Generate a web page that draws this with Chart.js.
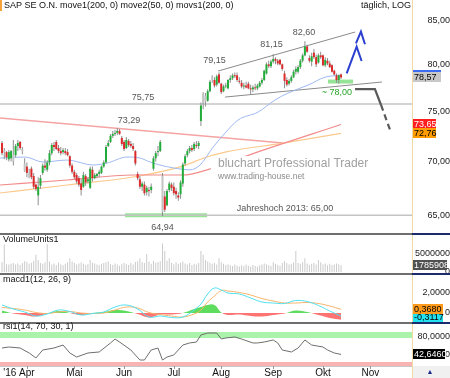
<!DOCTYPE html>
<html>
<head>
<meta charset="utf-8">
<script src="https://cdn.jsdelivr.net/npm/chart.js@4.4.1/dist/chart.umd.min.js"></script>
<style>
  html, body { margin: 0; padding: 0; background: #fff; }
  #wrap { position: relative; width: 450px; height: 378px; overflow: hidden; }
  #wrap canvas { position: absolute; left: 0; }
</style>
</head>
<body>
<div id="wrap">
  <canvas id="cPrice" width="450" height="233" style="top:0px"></canvas>
  <canvas id="cVol" width="450" height="40" style="top:233px"></canvas>
  <canvas id="cMacd" width="450" height="49" style="top:273px"></canvas>
  <canvas id="cRsi" width="450" height="56" style="top:322px"></canvas>
</div>
<script>
// SAP SE, Tageskerzen 15.03.2016 - 13.10.2016 (Index 0 = erster Handelstag)
const opens = [71.8,71.1,70.9,70.2,70.3,70.0,70.6,71.5,71.9,71.0, 69.1,69.5,68.5,69.3,68.6,67.8,66.8,67.7,68.9,69.6,
  69.2,69.9,70.8,71.6,71.9,71.3,71.0,70.9,71.0,70.9, 70.5,69.6,69.0,68.7,68.4,67.9,67.6,68.6,68.1,67.5,
  69.2,68.4,68.6,68.8,68.9,69.5,69.9,71.5,71.9,72.5, 72.7,72.8,73.0,72.3,71.9,71.3,72.0,71.7,71.5,71.0,
  68.8,68.3,67.6,67.8,67.1,67.3,67.3,69.3,70.3,70.9, 71.0,65.3,66.7,65.9,67.3,67.8,67.6,67.2,66.8,66.9,
  67.9,69.8,70.6,71.0,71.3,71.2,71.6,71.5,74.0,76.8, 76.6,76.1,77.1,78.6,78.3,77.8,78.9,77.9,77.1,77.6,
  77.4,78.3,78.5,78.8,78.8,78.2,78.0,77.6,77.7,77.9, 77.4,77.3,77.5,77.4,77.6,78.0,78.3,79.0,80.0,79.8,
  80.3,80.6,80.4,80.5,80.0,79.0,78.3,77.9,78.2,78.6, 79.2,79.2,79.7,80.4,81.0,82.0,80.7,80.3,81.3,80.8,
  80.2,81.0,81.0,79.9,80.4,80.1,79.9,79.3,78.8,78.3, 78.9];
const highs = [72.0,71.3,71.0,71.1,71.1,72.1,71.7,72.1,72.0,71.4, 70.3,69.9,69.3,69.5,68.9,67.9,68.5,68.7,69.8,70.2,
  70.1,71.1,71.8,71.9,72.1,71.6,71.4,71.3,71.3,71.2, 70.6,69.8,69.2,68.9,68.6,68.3,69.0,68.8,68.5,69.5,
  69.5,68.9,68.9,69.2,69.6,70.1,71.6,72.1,72.7,73.0, 73.1,73.29,73.2,72.5,72.1,72.4,72.2,72.0,71.8,71.1,
  69.0,68.6,68.1,68.1,67.7,67.6,67.9,70.5,71.0,71.5, 72.1,68.9,67.2,67.4,68.1,68.0,68.0,67.5,67.1,68.2,
  69.9,70.7,71.2,71.5,71.6,71.9,72.0,72.0,75.9,77.0, 76.9,77.3,78.3,78.8,78.6,78.9,79.15,78.0,77.8,78.0,
  78.4,78.8,79.0,79.1,79.1,78.6,78.3,78.0,78.1,78.1, 77.8,77.7,77.9,77.9,78.2,78.5,79.4,80.2,80.4,80.5,
  81.15,80.8,80.6,80.6,80.1,79.3,78.6,78.4,78.8,79.4, 79.8,79.9,80.6,81.2,82.60,82.2,81.0,81.3,81.7,81.1,
  81.2,81.4,81.1,80.8,80.7,80.4,80.0,79.4,79.0,78.9, 79.0];
const lows = [70.6,70.2,70.1,70.0,70.0,69.6,70.4,71.0,71.1,70.7, 69.0,68.5,68.4,68.3,67.4,67.2,65.9,67.4,68.7,69.1,
  69.0,69.6,70.6,71.0,71.1,70.8,70.6,70.7,70.6,70.5, 69.4,68.8,68.3,67.9,67.6,66.8,67.5,67.7,67.9,67.4,
  68.1,68.3,68.4,68.5,68.8,69.4,69.8,71.4,71.8,72.3, 72.5,72.6,72.6,71.5,71.0,71.2,71.4,71.3,71.0,69.6,
  68.2,67.4,67.2,66.8,66.8,66.7,67.0,69.1,70.0,70.5, 70.9,64.94,65.3,65.8,67.1,67.2,66.8,66.5,66.3,66.5,
  67.6,69.6,70.4,70.8,70.9,71.0,71.3,71.2,73.5,75.2, 75.5,76.0,77.0,78.0,77.5,77.6,77.9,76.8,77.0,77.4,
  77.3,78.0,78.3,78.5,78.1,77.9,77.4,77.3,77.4,77.3, 76.8,77.0,77.2,77.2,77.5,77.8,78.2,78.9,79.6,79.6,
  80.1,80.0,79.9,79.9,79.3,77.4,77.6,77.7,78.0,78.5, 78.9,79.0,79.5,80.2,80.9,81.3,80.2,79.8,80.6,79.7,
  80.1,80.6,79.8,79.7,79.9,79.6,79.1,78.8,78.0,77.9, 78.4];
const closes = [70.8,70.9,70.4,70.9,71.0,70.6,71.5,71.8,71.3,71.2, 69.8,68.9,68.8,68.5,67.6,67.4,67.6,68.4,69.6,69.4,
  69.9,70.8,71.6,71.4,71.2,71.0,70.8,71.1,70.8,70.6, 69.6,69.0,68.5,68.1,67.8,67.3,68.7,68.0,68.3,69.3,
  68.4,68.7,68.8,69.0,69.5,69.9,71.4,71.8,72.5,72.7, 72.8,73.0,72.7,71.7,71.2,72.1,71.6,71.5,71.2,69.8,
  68.4,67.6,67.9,67.0,67.5,67.2,67.6,70.3,70.8,71.0, 71.9,68.6,65.5,67.2,67.9,67.5,67.0,66.9,66.6,68.0,
  69.7,70.5,71.0,71.3,71.1,71.7,71.5,71.8,75.6,75.9, 76.0,77.1,78.1,78.3,77.7,78.7,78.0,77.0,77.6,77.7,
  78.3,78.5,78.8,78.7,78.3,78.1,77.6,77.7,77.5,77.4, 77.3,77.5,77.4,77.7,78.0,78.3,79.3,80.0,79.8,80.3,
  80.6,80.4,80.1,80.0,79.5,78.2,77.8,78.2,78.6,79.2, 79.5,79.7,80.4,81.0,82.0,81.4,80.4,80.9,80.8,80.0,
  81.0,80.8,79.9,80.5,80.1,79.7,79.2,78.9,78.3,78.8, 78.57];
// Volumen in Mio. Stueck
const volumes = [2.6,7.4,2.1,2.0,2.2,2.4,2.0,2.3,1.9,2.4, 2.9,2.7,2.2,2.5,3.0,4.6,3.2,2.4,2.2,2.6,
  7.4,2.8,2.0,2.3,1.9,2.5,2.1,1.8,2.2,2.6, 3.7,2.8,2.4,2.0,2.3,2.6,2.2,1.9,2.1,3.2,
  2.5,2.3,2.0,1.8,2.2,2.4,2.6,2.8,2.1,1.9, 2.3,2.0,1.7,2.2,2.5,2.1,1.9,2.4,2.0,2.7,
  2.9,3.7,2.6,2.4,4.8,2.8,2.2,3.0,2.5,2.7, 2.9,7.6,5.6,3.0,3.7,2.4,2.1,2.6,2.2,2.5,
  2.8,2.3,2.0,2.4,1.9,2.2,2.0,2.4,5.6,4.6, 3.2,2.8,2.5,2.2,2.4,2.0,3.7,2.6,2.2,1.9,
  2.1,1.8,1.6,2.0,1.7,1.5,1.8,1.6,2.0,1.7, 1.5,1.9,1.6,1.4,1.8,2.0,2.3,2.1,1.8,1.6,
  2.6,2.2,1.9,1.7,2.5,2.9,2.4,2.0,2.2,2.6, 5.6,2.4,2.2,2.6,3.7,2.3,1.9,2.2,2.4,2.0,
  3.2,2.6,2.1,2.3,1.8,2.2,1.9,2.0,2.3,2.1, 1.785908];

// gleitende Durchschnitte (Stuetzpunkte: Index, Kurs)
const ma50Idx = [-0.9,10.2,18.1,28.8,40.3,46.5,55.3,61.1,65.5,69.9,75.7,83.2,87.6,93.4,98.7,104.4,113.3,120.8,126.5,135.4,142.9,150];
const ma50Val = [70.32,70.42,69.94,70.13,69.65,69.84,70.42,70.32,69.94,69.65,69.38,69.19,69.65,71.39,72.79,74.10,74.92,76.17,76.90,77.75,78.60,78.82];
const ma200Idx = [-0.9,28.8,58,80.1,90.7,112,150];
const ma200Val = [67.76,68.23,68.70,68.70,69.19,70.83,73.65];
const mas200Idx = [-0.9,28.8,58,78.8,90.7,98.7,124.3,150];
const mas200Val = [67.02,67.76,68.51,69.47,70.42,70.90,71.78,72.76];

// Zeichnungen im Kurschart
const level7575 = 75.75;
const level6500 = 65.00;
const downTrend = [[-0.9, 74.30], [124.3, 71.79]];
const wedgeTop = [[95.6, 79.27], [156.2, 83.64]];
const wedgeBottom = [[98.7, 76.48], [168.1, 78.08]];
const supportLow = [[54.4, 65.0], [90.7, 65.0]];
const supportNow = [[144.2, 78.13], [155.3, 78.13]];
const arrowLow = [[152.5, 79.02], [156.9, 81.97], [159.1, 80.37]];
const arrowHigh = [[156.6, 82.35], [158.8, 83.68], [160.6, 82.24]];
const scenarioSolid = [[156.2, 77.33], [165.0, 77.33], [167.7, 75.65]];
const scenarioDash = [[167.7, 75.65], [171.7, 73.09]];
const priceNotes = [
  ['79,15', 94.0, 80.37], ['81,15', 119.2, 82.16], ['82,60', 133.6, 83.53],
  ['73,29', 56.2, 74.00], ['75,75', 62.4, 76.38], ['64,94', 71.0, 63.95],
  ['Jahreshoch 2013: 65,00', 125.2, 65.56]
];
const greenNote = ['~ 78,00', 148.2, 77.01];

// MACD (12, 26, 9)
const macdIdx = [0,5,10,15,20,25,30,35,40,45,50,55,60,65,70,75,80,85,88,91,94,97,100,105,110,115,120,125,130,135,140,145,150];
const macdLine = [0.8,0.4,0.1,-0.3,-0.1,0.3,0.15,-0.2,-0.05,0.1,0.6,0.8,0.4,-0.4,-0.3,-0.45,-0.4,0.3,0.9,1.9,2.5,2.3,2.0,1.9,1.5,1.1,1.0,0.95,1.25,1.15,0.75,0.2,-0.3117];
const signalLine = [0.55,0.45,0.3,0.05,-0.05,0.1,0.15,0.0,-0.05,0.0,0.3,0.6,0.5,0.05,-0.15,-0.3,-0.4,-0.1,0.3,1.1,1.7,2.25,2.2,2.05,1.8,1.45,1.2,1.0,1.0,1.05,0.95,0.7,0.368];

// RSI (14)
const rsiIdx = [0,3,8,12,15,18,23,27,30,33,38,43,48,50,52,57,61,63,66,69,71,73,76,80,83,86,88,91,95,97,99,103,106,111,113,116,120,122,124,128,131,134,137,142,144,147,150];
const rsiVal = [53.3,55,53.3,45,36.7,50,53.3,58.3,45,38.3,45,46.7,61.7,68.3,63.3,50,33.3,33.3,50,53.3,33.3,38.3,41.7,58.3,61.7,63.3,75,78.3,78.3,68.3,70,71.7,68.3,61.7,61.7,63.3,66.7,61.7,50,46.7,53.3,66.7,58.3,55,50,45,42.646];

// Achsen
const monthIdx = [11, 32, 54, 76, 97, 120, 142, 163];
const monthNames = ['Apr', 'Mai', 'Jun', 'Jul', 'Aug', 'Sep', 'Okt', 'Nov'];
const priceTicks = [65, 70, 75, 80, 85];
const volTicks = [0, 5];
const macdTicks = [0, 2];
const rsiTicks = [50, 80];

const X_MIN = -0.9, X_MAX = 181.4;
const FONT = "'Liberation Sans', Arial, Helvetica, sans-serif";
Chart.defaults.font.family = FONT;

const xScale = () => ({ type: 'linear', min: X_MIN, max: X_MAX, offset: false, display: false });
const pts = (xs, ys) => xs.map((x, k) => ({ x: x, y: ys[k] }));
const pairs = arr => arr.map(p => ({ x: p[0], y: p[1] }));
const flat = v => [{ x: X_MIN, y: v }, { x: X_MAX, y: v }];

function line(data, color, width, extra) {
  return Object.assign({ type: 'line', data: data, borderColor: color, borderWidth: width,
    pointRadius: 0, fill: false, tension: 0 }, extra || {});
}

const base = {
  responsive: false, animation: false, devicePixelRatio: 1, events: [],
  plugins: { legend: { display: false }, tooltip: { enabled: false } }
};

function valueBox(ctx, x, yc, w, bg, fg, s) {
  ctx.fillStyle = bg;
  ctx.fillRect(x, Math.round(yc - 5), w, 10);
  ctx.fillStyle = fg;
  ctx.font = '9px ' + FONT;
  ctx.textAlign = 'left';
  ctx.textBaseline = 'middle';
  ctx.fillText(s, x + 1, yc + 0.5);
}

function panel(cfg) {
  return {
    id: 'panel',
    afterDraw(chart) {
      const { ctx, chartArea: a, scales: { y } } = chart;
      ctx.save();
      ctx.strokeStyle = '#f1d9a6';
      ctx.lineWidth = 1;
      ctx.beginPath(); ctx.moveTo(a.right + 0.5, 0); ctx.lineTo(a.right + 0.5, chart.height); ctx.stroke();
      if (cfg.topLine) {
        ctx.fillStyle = '#6e6e6e'; ctx.fillRect(0, 0, a.right, 2);
        ctx.fillStyle = '#1c2b6e'; ctx.fillRect(a.right, 0, chart.width - a.right, 2);
      }
      if (cfg.header) {
        ctx.font = '9px ' + FONT; ctx.fillStyle = '#111';
        ctx.textAlign = 'left'; ctx.textBaseline = 'middle';
        ctx.fillText(cfg.header, 3, cfg.headerY);
      }
      ctx.font = '9px ' + FONT; ctx.fillStyle = '#222';
      ctx.textAlign = 'right'; ctx.textBaseline = 'middle';
      cfg.ticks.forEach(v => ctx.fillText(cfg.fmt(v), chart.width, y.getPixelForValue(v) + (cfg.tickDy || 0)));
      (cfg.boxes || []).forEach(b => valueBox(ctx, a.right + 1, y.getPixelForValue(b[0]), b[1], b[2], b[3], b[4]));
      if (cfg.extra) cfg.extra(chart);
      ctx.restore();
    }
  };
}

const comma = (v, d) => v.toFixed(d).replace('.', ',');

// ---------- Kurschart ----------
const idx = closes.map((_, i) => i);
const bodyColors = closes.map((c, i) => {
  const prev = i > 0 ? closes[i - 1] : opens[i];
  if (c > opens[i] && c >= prev) return '#22ad3a';
  if (c < opens[i] && c <= prev) return '#dc2a2a';
  return '#c4c4c4';
});

new Chart(document.getElementById('cPrice'), {
  type: 'bar',
  data: {
    datasets: [
      line(pairs(arrowLow), '#2b3fd0', 2, { order: 0 }),
      line(pairs(arrowHigh), '#2b3fd0', 2, { order: 0 }),
      line(pairs(scenarioSolid), '#5a5a5a', 2.2, { order: 0 }),
      line(pairs(scenarioDash), '#5a5a5a', 2.2, { order: 0, borderDash: [6, 4] }),
      { type: 'bar', data: idx.map(i => ({ x: i, y: [opens[i], closes[i]] })), backgroundColor: bodyColors,
        barThickness: 2, minBarLength: 1, grouped: false, inflateAmount: 0, borderWidth: 0, order: 1 },
      { type: 'bar', data: idx.map(i => ({ x: i, y: [lows[i], highs[i]] })), backgroundColor: '#8e8e8e',
        barThickness: 1, grouped: false, inflateAmount: 0, borderWidth: 0, order: 2 },
      line(pts(ma50Idx, ma50Val), '#9fb9f2', 1, { order: 3, cubicInterpolationMode: 'monotone' }),
      line(pts(ma200Idx, ma200Val), '#f28c8c', 1.2, { order: 3, cubicInterpolationMode: 'monotone' }),
      line(pts(mas200Idx, mas200Val), '#fcc98c', 1.2, { order: 3, cubicInterpolationMode: 'monotone' }),
      line(pairs(downTrend), '#f5a3a3', 1.5, { order: 4 }),
      line(pairs(wedgeTop), '#8a8a8a', 1, { order: 4 }),
      line(pairs(wedgeBottom), '#8a8a8a', 1, { order: 4 }),
      line(flat(level7575), '#c4c4c4', 1.5, { order: 4 }),
      line(flat(level6500), '#c4c4c4', 1.5, { order: 4 }),
      line(pairs(supportLow), '#96e496', 4, { order: 5 }),
      line(pairs(supportNow), '#96e496', 4, { order: 5 })
    ]
  },
  options: Object.assign({}, base, {
    layout: { padding: { left: 0, top: 0, right: 38, bottom: 0 } },
    scales: { x: xScale(), y: { type: 'logarithmic', min: 63.43, max: 87.41, bounds: 'data', display: false } }
  }),
  plugins: [panel({
    ticks: priceTicks, fmt: v => comma(v, 2),
    boxes: [
      [ma50Val[ma50Val.length - 1], 28, '#3c6cf0', '#fff', ''],
      [closes[closes.length - 1], 28, '#c8c8c8', '#000', comma(closes[closes.length - 1], 2)],
      [ma200Val[ma200Val.length - 1], 23, '#ff1e1e', '#fff', comma(ma200Val[ma200Val.length - 1], 2)],
      [mas200Val[mas200Val.length - 1], 23, '#ff9c00', '#000', comma(mas200Val[mas200Val.length - 1], 2)]
    ],
    extra(chart) {
      const { ctx, scales: { x, y } } = chart;
      // Wasserzeichen
      ctx.fillStyle = '#fff';
      ctx.fillRect(211, 156, 158, 27);
      ctx.textAlign = 'left'; ctx.textBaseline = 'middle';
      ctx.fillStyle = '#a0a0a0';
      ctx.font = '12px ' + FONT;
      ctx.fillText('bluchart Professional Trader', 218, 164);
      ctx.fillStyle = '#8c8c8c';
      ctx.font = '8.5px ' + FONT;
      ctx.fillText('www.trading-house.net', 218, 177);
      // Kursmarken
      ctx.textAlign = 'center';
      ctx.font = '9px ' + FONT;
      ctx.fillStyle = '#555';
      priceNotes.forEach(n => ctx.fillText(n[0], x.getPixelForValue(n[1]), y.getPixelForValue(n[2])));
      ctx.fillStyle = '#2aa52a';
      ctx.fillText(greenNote[0], x.getPixelForValue(greenNote[1]), y.getPixelForValue(greenNote[2]));
      // Titel
      ctx.fillStyle = '#f6a33a';
      ctx.fillRect(0, 0, 2, 11);
      ctx.fillStyle = '#111';
      ctx.textAlign = 'left';
      ctx.fillText('SAP SE O.N. move1(200, 0) move2(50, 0) movs1(200, 0)', 4, 6);
      ctx.fillText('t\u00e4glich, LOG', 361, 6);
    }
  })]
});

// ---------- Volumen ----------
new Chart(document.getElementById('cVol'), {
  type: 'bar',
  data: { datasets: [{ data: idx.map(i => ({ x: i, y: volumes[i] })), backgroundColor: '#cbcbcb',
    barThickness: 1, inflateAmount: 0, borderWidth: 0 }] },
  options: Object.assign({}, base, {
    layout: { padding: { left: 0, top: 0, right: 38, bottom: 0 } },
    scales: { x: xScale(), y: { type: 'linear', min: -0.27, max: 10.43, display: false } }
  }),
  plugins: [panel({
    topLine: true, header: 'VolumeUnits1', headerY: 7,
    ticks: volTicks, fmt: v => (v === 0 ? '0' : String(Math.round(v * 1e6))),
    boxes: [[volumes[volumes.length - 1], 34, '#505050', '#fff', String(Math.round(volumes[volumes.length - 1] * 1e6))]]
  })]
});

// ---------- MACD ----------
const histVal = macdLine.map((m, k) => m - signalLine[k]);
new Chart(document.getElementById('cMacd'), {
  type: 'line',
  data: { datasets: [
    line(pts(macdIdx, macdLine), '#4fe0f0', 1, { tension: 0.4, order: 0 }),
    line(pts(macdIdx, signalLine), '#f7b36a', 1, { tension: 0.4, order: 0 }),
    line(pts(macdIdx, histVal), 'rgba(0,0,0,0)', 0, { tension: 0.4, order: 1,
      fill: { target: 'origin', above: '#5ddc5d', below: '#ff7373' } })
  ] },
  options: Object.assign({}, base, {
    layout: { padding: { left: 0, top: 0, right: 38, bottom: 0 } },
    scales: { x: xScale(), y: { type: 'linear', min: -0.9, max: 4.0, display: false } }
  }),
  plugins: [panel({
    topLine: true, header: 'macd1(12, 26, 9)', headerY: 7,
    ticks: macdTicks, fmt: v => (v === 0 ? '0' : comma(v, 4)),
    boxes: [
      [macdLine[macdLine.length - 1] - 0.05, 30, '#22e2f2', '#000', comma(macdLine[macdLine.length - 1], 4)],
      [signalLine[signalLine.length - 1], 30, '#ff9a1a', '#000', comma(signalLine[signalLine.length - 1], 4)]
    ]
  })]
});

// ---------- RSI ----------
new Chart(document.getElementById('cRsi'), {
  type: 'line',
  data: { datasets: [
    line(pts(rsiIdx, rsiVal), '#6e6e6e', 1, { order: 0 }),
    line(flat(80), 'rgba(0,0,0,0)', 0, { order: 2, fill: '+1', backgroundColor: '#abf3ab' }),
    line(flat(70), 'rgba(0,0,0,0)', 0, { order: 2 }),
    line(flat(30), 'rgba(0,0,0,0)', 0, { order: 2, fill: 'start', backgroundColor: '#f9b3b3' })
  ] },
  options: Object.assign({}, base, {
    layout: { padding: { left: 0, top: 0, right: 38, bottom: 12 } },
    scales: { x: xScale(), y: { type: 'linear', min: 23.33, max: 96.67, display: false } }
  }),
  plugins: [panel({
    topLine: true, header: 'rsi1(14, 70, 30, 1)', headerY: 5,
    ticks: rsiTicks, fmt: v => comma(v, 4), tickDy: 5,
    boxes: [[rsiVal[rsiVal.length - 1], 32, '#000', '#fff', comma(rsiVal[rsiVal.length - 1], 4)]],
    extra(chart) {
      const { ctx, chartArea: a, scales: { x } } = chart;
      ctx.fillStyle = '#c8c8c8';
      ctx.fillRect(0, a.bottom, a.right, 1);
      ctx.fillStyle = '#f0f0f0';
      ctx.fillRect(a.right + 1, a.bottom, chart.width - a.right - 1, chart.height - a.bottom);
      ctx.fillStyle = '#1d2a8a';
      ctx.font = '7px ' + FONT; ctx.textAlign = 'center'; ctx.textBaseline = 'middle';
      ctx.fillText('\u25B2', 430, a.bottom + 6);
      ctx.font = '10px ' + FONT;
      ctx.fillStyle = '#111';
      monthIdx.forEach((m, k) => {
        const px = x.getPixelForValue(m);
        ctx.fillStyle = '#999';
        ctx.fillRect(Math.round(px), a.bottom, 1, 3);
        ctx.fillStyle = '#111';
        ctx.textAlign = 'center';
        ctx.fillText(monthNames[k], px, a.bottom + 7);
        if (k === 0) {
          ctx.textAlign = 'right';
          ctx.fillText("'16 ", px - ctx.measureText(monthNames[k]).width / 2, a.bottom + 7);
        }
      });
    }
  })]
});
</script>
</body>
</html>
